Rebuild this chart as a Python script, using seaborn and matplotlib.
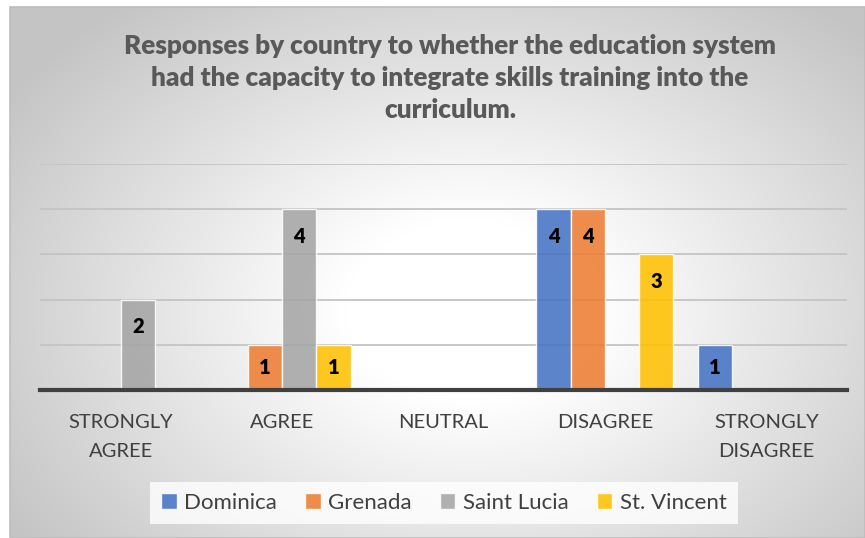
import numpy as np
import pandas as pd
import matplotlib
matplotlib.use("Agg")
import matplotlib.pyplot as plt
from matplotlib.patches import Rectangle
import seaborn as sns

# Survey data
responses = ["STRONGLY\nAGREE", "AGREE", "NEUTRAL", "DISAGREE", "STRONGLY\nDISAGREE"]
countries = ["Dominica", "Grenada", "Saint Lucia", "St. Vincent"]
dominica = [0, 0, 0, 4, 1]
grenada = [0, 1, 0, 4, 0]
saint_lucia = [2, 4, 0, 0, 0]
st_vincent = [0, 1, 0, 3, 0]
colors = ["#4472C4", "#ED7D31", "#A5A5A5", "#FFC000"]
title = ("Responses by country to whether the education system\n"
         "had the capacity to integrate skills training into the\n"
         "curriculum.")

df = pd.DataFrame({
    "response": responses * 4,
    "country": np.repeat(countries, len(responses)),
    "count": dominica + grenada + saint_lucia + st_vincent,
})

sns.set_theme(style="white")
plt.rcParams["font.family"] = ["Lato", "DejaVu Sans"]

W, H = 865, 538
fig = plt.figure(figsize=(W / 100, H / 100), dpi=100)
fig.patch.set_facecolor("white")

# Radial gradient backdrop for the chart area
bx0, by0, bx1, by1 = 10, 7, 865, 538
bg = fig.add_axes([bx0 / W, 0, (bx1 - bx0) / W, (by1 - by0) / H], zorder=0)
xs = np.linspace(bx0, bx1, 400)
ys = np.linspace(by0, by1, 260)
X, Y = np.meshgrid(xs, ys)
d = np.sqrt(((X - 470) / 500) ** 2 + ((Y - 310) / 360) ** 2)
t = np.clip((d - 0.25) / 0.85, 0, 1)
shade = 1.0 - 0.23 * t
img = np.dstack([shade, shade, shade])
bg.imshow(img, aspect="auto", extent=[0, 1, 0, 1], origin="upper")
bg.set_xlim(0, 1)
bg.set_ylim(0, 1)
bg.axis("off")
bg.add_patch(Rectangle((0, 0), 1, 1, transform=bg.transAxes, fill=False,
                       edgecolor="#bdbdbd", lw=1.2, clip_on=False))

ax = fig.add_axes([40 / W, (H - 390) / H, (847 - 40) / W, (390 - 164) / H], zorder=2)
ax.patch.set_alpha(0)

sns.barplot(data=df, x="response", y="count", hue="country", hue_order=countries,
            order=responses, palette=colors, saturation=1, width=0.85, alpha=0.87,
            edgecolor=(1, 1, 1, 0.6), linewidth=1.0, ax=ax, legend=False,
            errorbar=None, zorder=3)

ax.set_ylim(0, 5)
ax.set_yticks([1, 2, 3, 4, 5])
ax.yaxis.grid(True, color="#c4c4c4", lw=1.3, zorder=0)
ax.set_axisbelow(True)
ax.tick_params(axis="y", left=False, labelleft=False)
ax.tick_params(axis="x", bottom=False, labelsize=14.5, labelcolor="#404040", pad=11)
for lbl in ax.get_xticklabels():
    lbl.set_linespacing(1.85)
for s in ["top", "right", "left"]:
    ax.spines[s].set_visible(False)
ax.spines["bottom"].set_color("#404040")
ax.spines["bottom"].set_linewidth(3)
ax.spines["bottom"].set_zorder(5)
ax.set_xlabel("")
ax.set_ylabel("")

# Value labels inside the bars
for cont in ax.containers:
    for bar in cont:
        h = bar.get_height()
        if h > 0:
            ax.text(bar.get_x() + bar.get_width() / 2, max(h - 0.6, h / 2), f"{h:g}",
                    ha="center", va="center", fontsize=14.5, fontweight="heavy",
                    color="black", zorder=6)

fig.text(450 / W, 1 - 78 / H, title, ha="center", va="center", fontsize=18.8,
         fontweight="heavy", color="#595959", linespacing=1.4)

handles = [Rectangle((0, 0), 1, 1, facecolor=c, alpha=0.87, edgecolor=(1, 1, 1, 0.6))
           for c in colors]
leg = fig.legend(handles, countries, loc="center", bbox_to_anchor=(444 / W, 1 - 503 / H),
                 ncol=4, frameon=True, fontsize=16, handlelength=0.7, handleheight=0.7,
                 handletextpad=0.35, columnspacing=1.25, borderpad=0.5,
                 labelcolor="#404040")
leg.get_frame().set_facecolor((1, 1, 1, 0.35))
leg.get_frame().set_edgecolor("none")
leg.get_frame().set_boxstyle("square", pad=0)

fig.savefig("out.png", dpi=100)
